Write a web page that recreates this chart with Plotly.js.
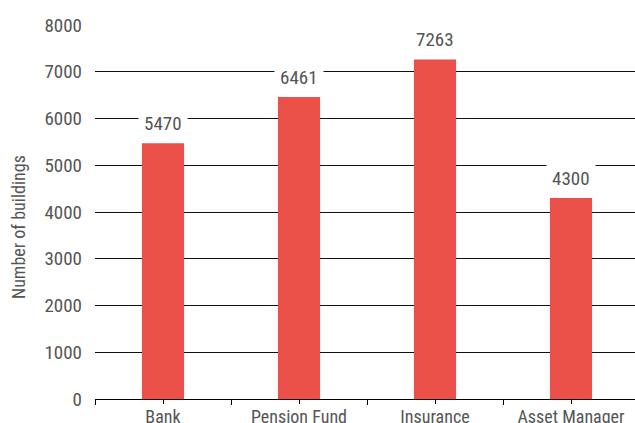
<!DOCTYPE html>
<html>
<head>
<meta charset="utf-8">
<script src="https://cdn.plot.ly/plotly-3.0.1.min.js"></script>
<style>html,body{margin:0;padding:0;background:#fff;}#chart{width:635px;height:423px;}</style>
</head>
<body>
<div id="chart"></div>
<script>
const categories = ["Bank", "Pension Fund", "Insurance", "Asset Manager"];
const buildings = [5470, 6461, 7263, 4300];
const yTicks = [0, 1000, 2000, 3000, 4000, 5000, 6000, 7000, 8000];
const yTitle = "Number of buildings";

const xIdx = categories.map((c, i) => i);
const fontFam = "'Roboto Condensed', 'DejaVu Sans Condensed', sans-serif";
const unitPx = 136;

const trace = {
  type: "bar",
  x: xIdx,
  y: buildings,
  width: 0.31,
  marker: { color: "#EB5049" },
  hoverinfo: "none"
};

const annotations = xIdx.map((xi, i) => ({
  x: xi, y: buildings[i], xref: "x", yref: "y",
  text: String(buildings[i]),
  showarrow: false,
  yanchor: "bottom",
  yshift: 2,
  bgcolor: "#ffffff",
  borderpad: 5,
  font: { family: fontFam, size: 19, color: "#555555" }
}));

annotations.push({
  xref: "paper", yref: "paper",
  x: (19 - 95) / 540, y: (399 - 227) / 374,
  xanchor: "center", yanchor: "middle",
  textangle: -90,
  showarrow: false,
  text: yTitle,
  font: { family: fontFam, size: 18, color: "#555555" }
});

const layout = {
  width: 635, height: 423,
  margin: { l: 95, r: 0, t: 25, b: 24, pad: 0 },
  paper_bgcolor: "#ffffff",
  plot_bgcolor: "#ffffff",
  showlegend: false,
  xaxis: {
    range: [-0.5, -0.5 + 540 / unitPx],
    tickmode: "array",
    tickvals: xIdx,
    ticktext: categories,
    ticks: "outside",
    ticklen: 4,
    tickcolor: "#000000",
    tickwidth: 1,
    ticklabelstandoff: -3,
    minor: { tickmode: "linear", tick0: -0.5, dtick: 1, ticks: "outside", ticklen: 5, tickcolor: "#000000", showgrid: false },
    showline: true,
    linecolor: "#000000",
    linewidth: 1,
    showgrid: false,
    zeroline: false,
    fixedrange: true,
    tickfont: { family: fontFam, size: 18, color: "#555555" }
  },
  yaxis: {
    range: [0, 8000],
    tickmode: "array",
    tickvals: yTicks,
    ticks: "",
    ticklabelstandoff: 12,
    showgrid: true,
    gridcolor: "#111111",
    gridwidth: 1,
    zeroline: false,
    showline: false,
    fixedrange: true,
    tickfont: { family: fontFam, size: 19, color: "#555555" },
    automargin: false
  },
  annotations: annotations
};

Plotly.newPlot("chart", [trace], layout, { displayModeBar: false, staticPlot: true });
</script>
</body>
</html>
